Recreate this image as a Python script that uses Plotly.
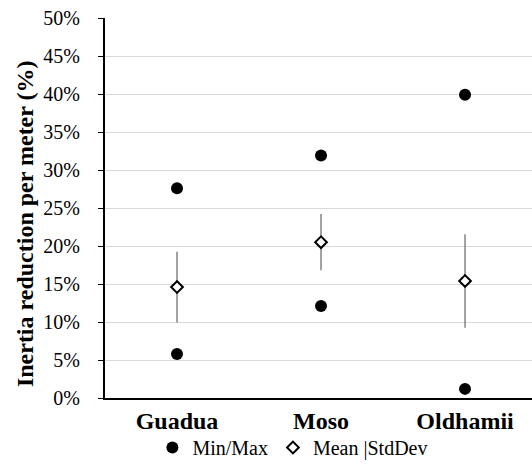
import plotly.graph_objects as go

categories = ["Guadua", "Moso", "Oldhamii"]
min_vals = [5.8, 12.1, 1.2]
max_vals = [27.6, 31.9, 39.9]
mean_vals = [14.6, 20.5, 15.4]
std_vals = [4.65, 3.7, 6.15]
y_ticks = [0, 5, 10, 15, 20, 25, 30, 35, 40, 45, 50]
y_tick_labels = [f"{v}%" for v in y_ticks]
y_title = "Inertia reduction per meter (%)"

FONT = "Times New Roman, Liberation Serif, serif"

fig = go.Figure()
fig.add_trace(go.Scatter(
    x=categories + categories,
    y=max_vals + min_vals,
    mode="markers",
    name="Min/Max",
    marker=dict(symbol="circle", size=12, color="black"),
))
fig.add_trace(go.Scatter(
    x=categories,
    y=mean_vals,
    mode="markers",
    name="Mean |StdDev",
    marker=dict(symbol="diamond", size=9, color="white",
                line=dict(color="black", width=2)),
    error_y=dict(type="data", array=std_vals, visible=True,
                 color="#707070", thickness=1.3, width=0),
))

fig.update_layout(
    width=532, height=467,
    margin=dict(l=105, r=0, t=18, b=69),
    paper_bgcolor="white", plot_bgcolor="white",
    font=dict(family=FONT, color="black", size=20),
    showlegend=True,
    legend=dict(orientation="h", x=0.44, xanchor="center", y=-0.131, yanchor="middle",
                bgcolor="rgba(0,0,0,0)",
                font=dict(family=FONT, size=20, color="black"),
                itemwidth=30, tracegroupgap=0, traceorder="normal"),
    xaxis=dict(
        type="category", range=[-0.5, 2.465], automargin=False,
        showline=True, linecolor="black", linewidth=2,
        showgrid=False, ticks="",
        tickfont=dict(family=FONT, size=24, color="black", weight="bold"),
        ticklabelstandoff=0,
    ),
    yaxis=dict(
        range=[0, 50], tickvals=y_ticks, ticktext=y_tick_labels, automargin=False,
        showline=True, linecolor="black", linewidth=2,
        showgrid=True, gridcolor="#d9d9d9", gridwidth=1.3,
        ticks="outside", ticklen=5, tickcolor="black", tickwidth=1.3,
        tickfont=dict(family=FONT, size=20, color="black"),
        ticklabelstandoff=14,
        zeroline=False,
    ),
    annotations=[dict(
        text=f"<b>{y_title}</b>", textangle=-90,
        xref="paper", yref="paper", x=-0.187, y=0.458,
        xanchor="center", yanchor="middle", showarrow=False,
        font=dict(family=FONT, size=24, color="black"),
    )],
)

fig.write_html("out.html", post_script="document.body.style.margin='0';",
               config={"displayModeBar": False})
